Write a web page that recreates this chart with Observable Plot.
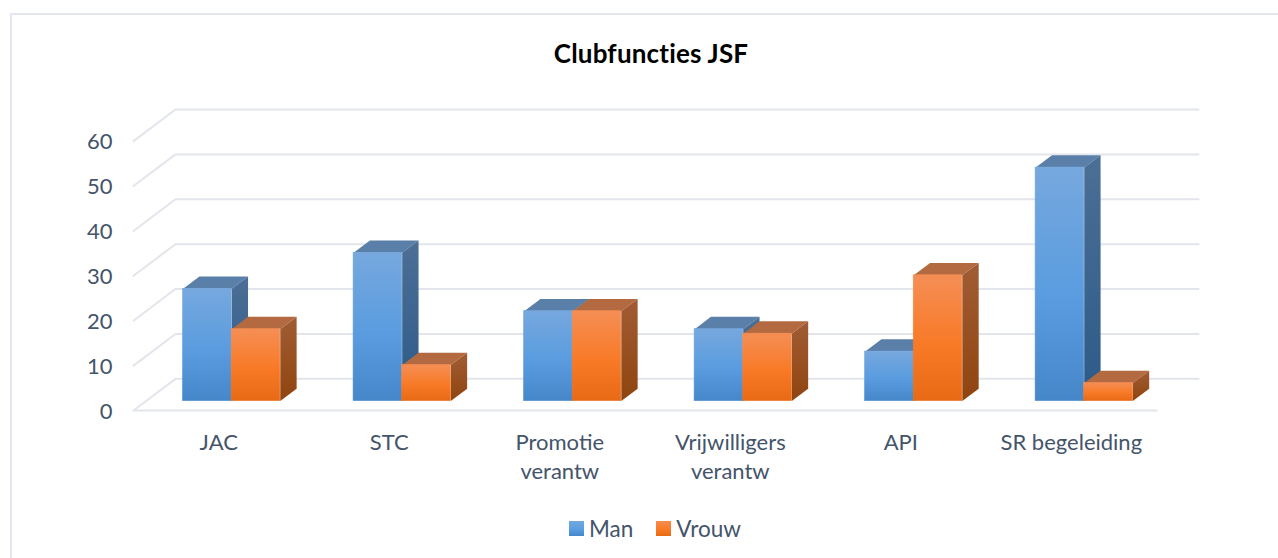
<!DOCTYPE html>
<html>
<head>
<meta charset="utf-8">
<script src="https://cdn.jsdelivr.net/npm/d3@7"></script>
<script src="https://cdn.jsdelivr.net/npm/@observablehq/plot@0.6"></script>
<style>
html,body{margin:0;padding:0;background:#fff;overflow:hidden}
#wrap{position:relative;width:1278px;height:558px;overflow:hidden;font-family:Lato,"Open Sans",sans-serif}
#frame{position:absolute;left:10px;top:13px;width:1300px;height:600px;border:2px solid #e3e6ee;box-sizing:border-box}
#title{position:absolute;left:0;width:1302px;top:38px;text-align:center;font-size:26px;font-weight:700;letter-spacing:.2px;color:#000;line-height:30px;margin:0}
#legend{position:absolute;left:569px;top:513px;height:30px;display:flex;align-items:center;font-size:22.5px;color:#44546a}
#legend i{display:block;width:15px;height:15px;margin-right:5px}
#legend span{margin-right:23px}
svg{position:absolute;left:0;top:0}
</style>
</head>
<body>
<div id="wrap">
  <div id="frame"></div>
  <div id="chart"></div>
  <h2 id="title">Clubfuncties JSF</h2>
  <div id="legend">
    <i style="background:linear-gradient(#75a8de,#5b9ee0 55%,#4587c9)"></i><span>Man</span>
    <i style="background:linear-gradient(#f58d52,#f97a27 55%,#e96a15)"></i><span>Vrouw</span>
  </div>
</div>
<script>
const categories = ["JAC", "STC", "Promotie\nverantw", "Vrijwilligers\nverantw", "API", "SR begeleiding"];
const man = [25, 33, 20, 16, 11, 52];
const vrouw = [16, 8, 20, 15, 28, 4];
const yTicks = [0, 10, 20, 30, 40, 50, 60];

// oblique projection: depth 0..1 shifts a point right (in category units) and up (in value units)
const depthX = 0.246, depthY = 7.05;
const barNear = 0.30, barFar = 0.69, barWidth = 0.285, barStart = 0.217;
const pt = (id, x, y, d) => ({id, x: x + d * depthX, y: y + d * depthY});
const xEnd = categories.length;

const gridRows = yTicks.flatMap(v => [
  pt("g" + v, 0, v, 0), pt("g" + v, 0, v, 1), pt("g" + v, xEnd, v, 1)
]);
const floorFront = [pt("f", 0, 0, 0), pt("f", xEnd, 0, 0)];

function faces(values, offset) {
  const front = [], top = [], side = [];
  values.forEach((v, i) => {
    const a = i + barStart + offset * barWidth, b = a + barWidth;
    front.push({x1: a + barNear * depthX, x2: b + barNear * depthX, y1: barNear * depthY, y2: v + barNear * depthY});
    top.push(pt("t" + i, a, v, barNear), pt("t" + i, b, v, barNear), pt("t" + i, b, v, barFar), pt("t" + i, a, v, barFar));
    side.push(pt("s" + i, b, v, barNear), pt("s" + i, b, v, barFar), pt("s" + i, b, 0, barFar), pt("s" + i, b, 0, barNear));
  });
  return {front, top, side};
}
const manF = faces(man, 0), vrouwF = faces(vrouw, 1);

const defs = () => {
  const g = document.createElementNS("http://www.w3.org/2000/svg", "g");
  const grad = (id, stops) => `<linearGradient id="${id}" x1="0" y1="0" x2="0" y2="1">` +
    stops.map(([o, c]) => `<stop offset="${o}" stop-color="${c}"/>`).join("") + `</linearGradient>`;
  g.innerHTML = "<defs>" +
    grad("manFront", [[0, "#76a8de"], [0.55, "#5a9cdf"], [1, "#4587c9"]]) +
    grad("vrouwFront", [[0, "#f58e55"], [0.55, "#f87a27"], [1, "#e86a15"]]) +
    grad("manSide", [[0, "#4c6f96"], [1, "#2c5a88"]]) +
    grad("vrouwSide", [[0, "#a05c34"], [1, "#8f450f"]]) +
    "</defs>";
  return g;
};

const faceMarks = (f, name, topColor) => [
  Plot.line(f.top, {x: "x", y: "y", z: "id", fill: topColor, stroke: null, curve: "linear"}),
  Plot.line(f.side, {x: "x", y: "y", z: "id", fill: `url(#${name}Side)`, stroke: null, curve: "linear"}),
  Plot.rect(f.front, {x1: "x1", x2: "x2", y1: "y1", y2: "y2", fill: `url(#${name}Front)`, stroke: `url(#${name}Front)`, strokeWidth: 0.6})
];

const chart = Plot.plot({
  width: 1278,
  height: 558,
  marginLeft: 133,
  marginRight: 80,
  marginTop: 109,
  marginBottom: 148,
  style: {background: "transparent", fontFamily: "Lato, 'Open Sans', sans-serif", color: "#44546a", overflow: "visible"},
  x: {domain: [0, xEnd + depthX], axis: null},
  y: {domain: [0, 60 + depthY], axis: null},
  marks: [
    defs,
    Plot.line(gridRows, {x: "x", y: "y", z: "id", stroke: "#e2e5ec", strokeWidth: 2, curve: "linear"}),
    Plot.line(floorFront, {x: "x", y: "y", z: "id", stroke: "#e2e5ec", strokeWidth: 2}),
    ...faceMarks(manF, "man", "#5a7fa9"),
    ...faceMarks(vrouwF, "vrouw", "#b46a40"),
    Plot.axisY({ticks: yTicks, tickSize: 0, tickPadding: 21, fontSize: 22, dy: 1, color: "#44546a", label: null}),
    Plot.axisX({
      ticks: categories.map((_, i) => i + 0.5),
      tickFormat: t => categories[Math.floor(t)],
      tickSize: 0, tickPadding: 19, fontSize: 22, lineHeight: 1.32, lineAnchor: "top",
      color: "#44546a", label: null
    })
  ]
});
document.getElementById("chart").appendChild(chart);
</script>
</body>
</html>
